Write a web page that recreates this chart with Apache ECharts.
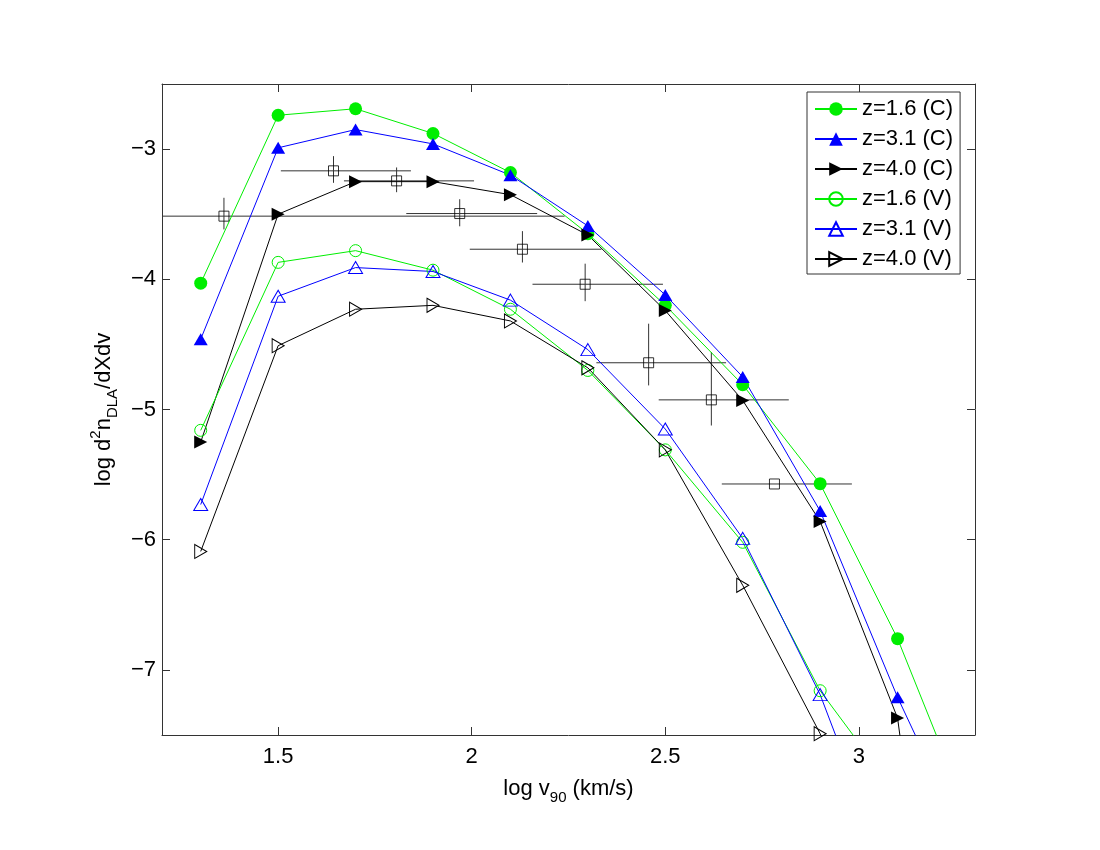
<!DOCTYPE html>
<html>
<head>
<meta charset="utf-8">
<script src="https://cdn.jsdelivr.net/npm/echarts@6/dist/echarts.min.js"></script>
<style>
html,body{margin:0;padding:0;background:#fff;}
#chart{width:1100px;height:850px;}
</style>
</head>
<body>
<div id="chart"></div>
<script>
// ---- data ----
var logV = [1.3, 1.5, 1.7, 1.9, 2.1, 2.3, 2.5, 2.7, 2.9, 3.1, 3.3];
var z16C = [-4.03, -2.74, -2.69, -2.88, -3.18, -3.65, -4.20, -4.81, -5.57, -6.76, -8.24];
var z31C = [-4.46, -2.99, -2.85, -2.96, -3.20, -3.59, -4.12, -4.75, -5.78, -7.21, -8.48];
var z40C = [-5.25, -3.50, -3.25, -3.25, -3.35, -3.66, -4.24, -4.93, -5.86, -7.37, -11.8];
var z16V = [-5.16, -3.87, -3.78, -3.93, -4.23, -4.70, -5.31, -6.02, -7.16, -7.96];
var z31V = [-5.73, -4.13, -3.91, -3.94, -4.16, -4.54, -5.15, -5.99, -7.19, -8.75];
var z40V = [-6.09, -4.51, -4.23, -4.20, -4.32, -4.68, -5.31, -6.35, -7.49, -9.0];

// observed points: x, y, x-low, x-high, y-low, y-high
var obsX   = [1.36, 1.643, 1.806, 1.969, 2.131, 2.293, 2.457, 2.619, 2.782];
var obsY   = [-3.515, -3.167, -3.244, -3.495, -3.769, -4.038, -4.641, -4.926, -5.572];
var obsXlo = [0.5, 1.507, 1.670, 1.831, 1.995, 2.157, 2.322, 2.483, 2.646];
var obsXhi = [2.24, 1.843, 2.006, 2.169, 2.335, 2.494, 2.657, 2.819, 2.982];
var obsYlo = [-3.617, -3.259, -3.331, -3.593, -3.871, -4.168, -4.815, -5.123, -5.572];
var obsYhi = [-3.374, -3.054, -3.141, -3.385, -3.630, -3.880, -4.341, -4.559, -5.572];

var seriesNames = ['z=1.6 (C)', 'z=3.1 (C)', 'z=4.0 (C)', 'z=1.6 (V)', 'z=3.1 (V)', 'z=4.0 (V)'];
var xTicks = [1.5, 2, 2.5, 3];
var yTicks = [-7, -6, -5, -4, -3];

// ---- build ----
function pairs(ys) { return ys.map(function (v, i) { return [logV[i], v]; }); }
var rightTri = 'path://M0,0L10,5L0,10Z';
var FONT = 'Liberation Sans, Arial, Helvetica, sans-serif';

function lineSeries(name, ys, color, symbol, size, filled) {
  return {
    name: name, type: 'line', data: pairs(ys),
    symbol: symbol, symbolSize: size, showAllSymbol: true,
    clip: true, z: 3,
    lineStyle: { color: color, width: 1 },
    itemStyle: filled ? { color: color, borderColor: color, borderWidth: 0 }
                      : { color: 'rgba(255,255,255,0)', borderColor: color, borderWidth: 1 },
    emphasis: { disabled: true }
  };
}

var obsData = obsX.map(function (x, i) { return [x, obsY[i], obsXlo[i], obsXhi[i], obsYlo[i], obsYhi[i]]; });

var series = [
  {
    type: 'custom', name: 'obs-err', z: 2,
    data: obsData,
    renderItem: function (params, api) {
      var x = api.value(0), y = api.value(1);
      var cs = params.coordSys;
      var rect = { x: cs.x, y: cs.y, width: cs.width, height: cs.height };
      var h = echarts.graphic.clipPointsByRect([api.coord([api.value(2), y]), api.coord([api.value(3), y])], rect);
      var v = echarts.graphic.clipPointsByRect([api.coord([x, api.value(4)]), api.coord([x, api.value(5)])], rect);
      var st = { stroke: '#333', lineWidth: 1, fill: null };
      return {
        type: 'group',
        children: [
          { type: 'polyline', shape: { points: h }, style: st },
          { type: 'polyline', shape: { points: v }, style: st }
        ]
      };
    },
    encode: { x: 0, y: 1 },
    silent: true
  },
  {
    type: 'scatter', name: 'obs', z: 4,
    data: obsData.map(function (d) { return [d[0], d[1]]; }),
    symbol: 'rect', symbolSize: 10,
    itemStyle: { color: 'rgba(255,255,255,0)', borderColor: '#000', borderWidth: 1 },
    emphasis: { disabled: true }, silent: true
  },
  lineSeries(seriesNames[0], z16C, '#00ee00', 'circle', 13, true),
  lineSeries(seriesNames[1], z31C, '#0000ff', 'triangle', [14, 12], true),
  lineSeries(seriesNames[2], z40C, '#000000', rightTri, [13, 13], true),
  lineSeries(seriesNames[3], z16V, '#00ee00', 'circle', 12, false),
  lineSeries(seriesNames[4], z31V, '#0000ff', 'triangle', [14, 12], false),
  lineSeries(seriesNames[5], z40V, '#000000', rightTri, [12, 14], false)
];

function minus(v) { return String(v).replace('-', '\u2212'); }

var axisCol = '#333';
var subStyle = { fontFamily: FONT, fontSize: 15, lineHeight: 15, verticalAlign: 'bottom', color: '#000' };
var supStyle = { fontFamily: FONT, fontSize: 15, lineHeight: 15, verticalAlign: 'top', color: '#000' };
var option = {
  animation: false,
  backgroundColor: '#fff',
  grid: { left: 162, right: 125, top: 84, bottom: 115 },
  legend: {
    data: seriesNames,
    orient: 'vertical',
    left: 807, top: 92,
    padding: [6, 7, 4, 7],
    itemWidth: 42, itemHeight: 17, itemGap: 8,
    backgroundColor: '#fff',
    borderColor: '#333', borderWidth: 1,
    textStyle: { fontFamily: FONT, fontSize: 22, color: '#000', width: 100 },
    selectedMode: false
  },
  xAxis: [
    {
      type: 'value', min: 1.2, max: 3.3, position: 'bottom',
      name: 'log v{sub|90} (km/s)', nameLocation: 'middle', nameGap: 24,
      nameTextStyle: {
        fontFamily: FONT, fontSize: 22, color: '#000', lineHeight: 32,
        rich: { sub: subStyle }
      },
      axisLine: { show: true, lineStyle: { color: axisCol, width: 1 } },
      axisTick: { show: true, inside: true, length: 8, customValues: xTicks, lineStyle: { color: axisCol } },
      axisLabel: { customValues: xTicks, margin: 11, fontFamily: FONT, fontSize: 22, color: '#000' },
      splitLine: { show: false }
    },
    {
      type: 'value', min: 1.2, max: 3.3, position: 'top',
      axisLine: { show: true, onZero: false, lineStyle: { color: axisCol, width: 1 } },
      axisTick: { show: true, inside: true, length: 8, customValues: xTicks, lineStyle: { color: axisCol } },
      axisLabel: { show: false },
      splitLine: { show: false }
    }
  ],
  yAxis: [
    {
      type: 'value', min: -7.5, max: -2.5, position: 'left',
      name: 'log d{sup|2}n{sub|DLA}/dXdv', nameLocation: 'middle', nameGap: 38,
      nameTextStyle: {
        fontFamily: FONT, fontSize: 22, color: '#000', lineHeight: 32,
        rich: { sup: supStyle, sub: subStyle }
      },
      axisLine: { show: true, onZero: false, lineStyle: { color: axisCol, width: 1 } },
      axisTick: { show: true, inside: true, length: 8, customValues: yTicks, lineStyle: { color: axisCol } },
      axisLabel: { customValues: yTicks, margin: 6, fontFamily: FONT, fontSize: 22, color: '#000', formatter: minus },
      splitLine: { show: false }
    },
    {
      type: 'value', min: -7.5, max: -2.5, position: 'right',
      axisLine: { show: true, onZero: false, lineStyle: { color: axisCol, width: 1 } },
      axisTick: { show: true, inside: true, length: 8, customValues: yTicks, lineStyle: { color: axisCol } },
      axisLabel: { show: false },
      splitLine: { show: false }
    }
  ],
  series: series
};

var chart = echarts.init(document.getElementById('chart'), null, { renderer: 'canvas' });
chart.setOption(option);
</script>
</body>
</html>
